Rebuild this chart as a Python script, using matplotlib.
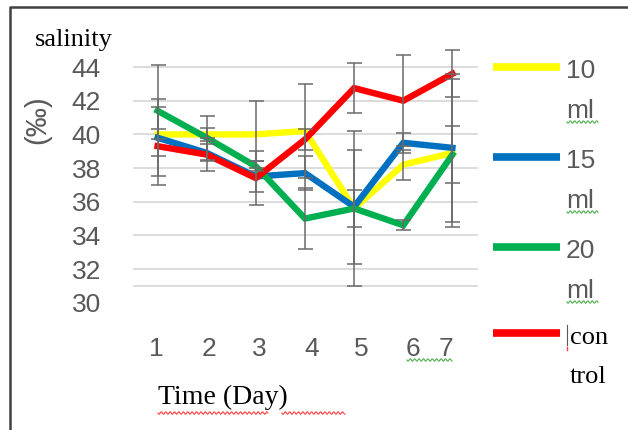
import numpy as np
import matplotlib.pyplot as plt
from matplotlib.lines import Line2D

# salinity per day for each treatment
days = [1, 2, 3, 4, 5, 6, 7]
ml10 = [40.0, 40.0, 40.0, 40.2, 35.6, 38.2, 38.9]
ml15 = [39.8, 38.9, 37.5, 37.7, 35.7, 39.5, 39.2]
ml20 = [41.4, 39.8, 38.1, 35.0, 35.6, 34.6, 38.8]
control = [39.3, 38.8, 37.4, 39.7, 42.75, 42.0, 43.6]

err10 = [0.3, 0.4, 2.0, 2.8, 4.6, 0.9, 4.4]
err15 = [2.3, 0.5, 0.9, 1.0, 3.4, 0.6, 4.4]
err20 = [2.7, 1.3, 0.3, 1.8, 1.1, 0.3, 1.7]
err_ctrl = [2.3, 1.0, 1.6, 0.6, 1.5, 2.7, 1.4]

series = [
    ('10\nml', ml10, err10, '#FFFF00'),
    ('15\nml', ml15, err15, '#0070C0'),
    ('20\nml', ml20, err20, '#00B050'),
    ('con\ntrol', control, err_ctrl, '#FF0000'),
]

y_ticks = [30, 32, 34, 36, 38, 40, 42, 44]
grid_levels = [31, 32, 34, 36, 38, 40, 42, 44]
x_labels = ['1', '2', '3', '4', '5', '6', '7']
x_label_pos = [0.97, 2.04, 3.08, 4.14, 5.14, 6.2, 6.86]

W, H = 628, 430
SANS = 'Liberation Sans'
SERIF = 'Liberation Serif'
GREY = '#595959'


def px(x, y):
    return x / W, 1 - y / H


def squiggle(fig, x0, x1, y, color):
    xs = np.linspace(x0, x1, int((x1 - x0) * 2))
    ys = y + 1.2 * np.sin((xs - x0) / 2.2 * np.pi)
    fig.add_artist(Line2D(xs / W, 1 - ys / H, color=color, lw=0.8,
                          transform=fig.transFigure))


fig = plt.figure(figsize=(6.28, 4.30), dpi=100)
ax = fig.add_axes([133 / W, 0.296, 345 / W, 0.6107])

for lvl in grid_levels:
    ax.axhline(lvl, color='#D9D9D9', lw=1.3, zorder=0)

for name, vals, errs, color in series:
    ax.plot(days, vals, color=color, lw=4.6, solid_joinstyle='miter', zorder=2)
for name, vals, errs, color in series:
    ax.errorbar(days, vals, yerr=errs, fmt='none', ecolor='#6A6A6A',
                elinewidth=1.1, capsize=5.4, capthick=1.1, zorder=3)

ax.set_xlim(0.5, 7.52)
ax.set_ylim(30, 45.6)
ax.set_yticks(y_ticks)
ax.set_yticklabels([str(t) for t in y_ticks], fontsize=19, color=GREY, family=SANS)
ax.set_xticks(x_label_pos)
ax.set_xticklabels(x_labels, fontsize=19, color=GREY, family=SANS)
ax.tick_params(axis='y', length=0, pad=23)
ax.tick_params(axis='x', length=0, pad=25)
for s in ax.spines.values():
    s.set_visible(False)
ax.patch.set_alpha(0)

# axis titles
fig.text(*px(74, 40), 'salinity', fontsize=19, family=SERIF, color='black',
         ha='center', va='center')
fig.text(*px(37, 120), '(‰)', fontsize=21, family=SANS, color=GREY,
         rotation=90, ha='center', va='center')
fig.text(*px(223, 397), 'Time (Day)', fontsize=20, family=SERIF, color='black',
         ha='center', va='center')
squiggle(fig, 158, 268, 413, '#FF4040')
squiggle(fig, 282, 345, 413, '#FF4040')
squiggle(fig, 407, 452, 360, '#50B050')

# legend, one entry per treatment stacked on the right
legend_y = [67, 157, 247, 333]
for (name, vals, errs, color), ly in zip(series, legend_y):
    fig.add_artist(Line2D([493 / W, 560 / W], [1 - ly / H] * 2, color=color,
                          lw=5.5, solid_capstyle='butt', transform=fig.transFigure))
    top, bottom = name.split('\n')
    if name.startswith('con'):
        fig.text(*px(570, ly + 5), top, fontsize=19, family=SERIF, color='black',
                 ha='left', va='center')
        fig.text(*px(570, ly + 44), bottom, fontsize=19, family=SERIF,
                 color='black', ha='left', va='center')
        fig.add_artist(Line2D([567 / W] * 2, [1 - (ly - 8) / H, 1 - (ly + 12) / H],
                              color=GREY, lw=0.8, transform=fig.transFigure))
        fig.add_artist(Line2D([567 / W] * 2, [1 - (ly + 14) / H, 1 - (ly + 17) / H],
                              color='#FF4040', lw=1.0, transform=fig.transFigure))
    else:
        fig.text(*px(566, ly + 4), top, fontsize=19, family=SANS, color=GREY,
                 ha='left', va='center')
        fig.text(*px(566, ly + 44), bottom, fontsize=19, family=SANS, color=GREY,
                 ha='left', va='center')
        squiggle(fig, 567, 598, ly + 55, '#50B050')

# chart frame
fig.add_artist(Line2D([10 / W, 10 / W, 1.01], [-0.01, 1 - 7 / H, 1 - 7 / H],
                      color='#404040', lw=1.8, transform=fig.transFigure))

fig.savefig('out.png', dpi=100)
